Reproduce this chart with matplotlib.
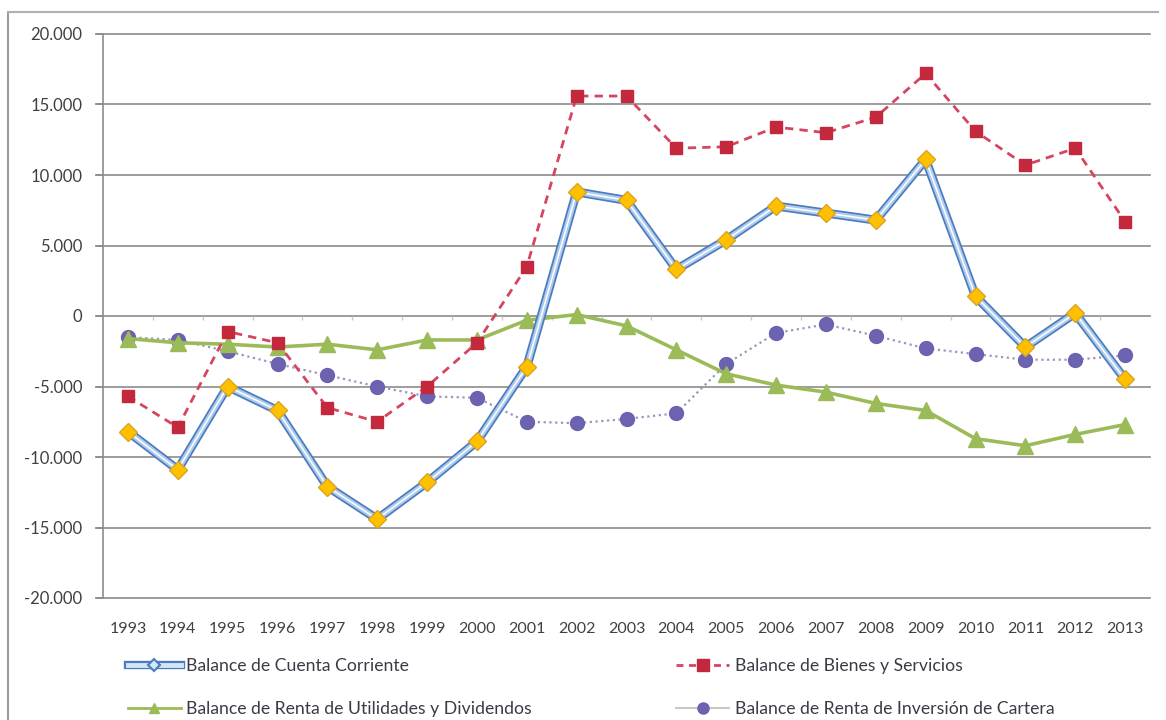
import numpy as np
import matplotlib
matplotlib.use("Agg")
from matplotlib import pyplot as plt
from matplotlib.lines import Line2D
from matplotlib.ticker import FuncFormatter
from matplotlib.legend_handler import HandlerTuple

plt.rcParams['font.family'] = ['Lato', 'DejaVu Sans']

years = [str(y) for y in range(1993, 2014)]

# millones de US$
cuenta_corriente = [-8200, -10900, -5000, -6700, -12100, -14400, -11800, -8900, -3600, 8800,
                    8200, 3300, 5400, 7800, 7300, 6800, 11100, 1400, -2200, 200, -4500]
bienes_servicios = [-5700, -7900, -1100, -1900, -6500, -7500, -5000, -1900, 3500, 15600,
                    15600, 11900, 12000, 13400, 13000, 14100, 17200, 13100, 10700, 11900, 6700]
utilidades_dividendos = [-1600, -1900, -2000, -2200, -2000, -2400, -1700, -1700, -300, 100,
                         -700, -2400, -4100, -4900, -5400, -6200, -6700, -8700, -9200, -8400, -7700]
inversion_cartera = [-1500, -1700, -2500, -3400, -4200, -5000, -5700, -5800, -7500, -7600,
                     -7300, -6900, -3400, -1200, -600, -1400, -2300, -2700, -3100, -3100, -2800]

labels = ['Balance de Cuenta Corriente', 'Balance de Bienes y Servicios',
          'Balance de Renta de Utilidades y Dividendos', 'Balance de Renta de Inversión de Cartera']

yticks = list(range(-20000, 20001, 5000))

txt = '#404040'
grid = '#8c8c8c'

fig = plt.figure(figsize=(11.66, 7.2), dpi=100)
ax = fig.add_axes([103 / 1166, 1 - 598 / 720, 1047 / 1166, 564 / 720])
x = np.arange(len(years))

ax.set_xlim(-0.5, len(years) - 0.5)
ax.set_ylim(-20000, 20000)
ax.set_yticks(yticks)
ax.yaxis.set_major_formatter(FuncFormatter(lambda v, p: f'{int(v):,}'.replace(',', '.')))
ax.set_xticks(x)
ax.set_xticklabels(years)
ax.tick_params(axis='x', length=0, pad=17, labelsize=11.5, labelcolor=txt)
ax.tick_params(axis='y', length=6, width=1.2, color=grid, pad=9, labelsize=12, labelcolor=txt)
for s in ['top', 'right', 'bottom']:
    ax.spines[s].set_visible(False)
ax.spines['left'].set_color(grid)
ax.spines['left'].set_linewidth(1.2)

for v in yticks:
    ax.axhline(v, xmin=-6 / 1047, xmax=1, color=grid, lw=1.2, zorder=1, clip_on=False)

# marcas pequeñas bajo el eje cero, entre categorías
ax.vlines(x[:-1] + 0.5, -300, 0, color='#c8c8c8', lw=1, zorder=1)

ax.plot(x, inversion_cartera, color='#9a96bb', lw=1.6, ls=(0, (1, 1.6)),
        marker='o', ms=10, mfc='#6b62b0', mec='#6b62b0', zorder=3)
ax.plot(x, utilidades_dividendos, color='#9bbb59', lw=2.6,
        marker='^', ms=11, mfc='#9bbb59', mec='#9bbb59', zorder=4)
ax.plot(x, bienes_servicios, color='#d64560', lw=2, ls=(0, (3, 2.2)),
        marker='s', ms=8, mfc='#c3283d', mec='#c3283d', zorder=5)
ax.plot(x, cuenta_corriente, color='#4a7cbe', lw=6.5, zorder=6)
ax.plot(x, cuenta_corriente, color='#aecbee', lw=4, zorder=6)
ax.plot(x, cuenta_corriente, color='white', lw=1.1, zorder=6)
ax.plot(x, cuenta_corriente, ls='none', marker='D', ms=9.5, mfc='#ffc000',
        mec='#d9a520', mew=1, zorder=7)

# leyenda
h_cc = (Line2D([], [], color='#4a7cbe', lw=6),
        Line2D([], [], color='#d6e5f6', lw=3.5),
        Line2D([], [], ls='none', marker='D', ms=6.5, mfc='#d6e5f6', mec='#4a7cbe', mew=1.5))
h_bs = (Line2D([], [], color='#d64560', lw=2, ls=(0, (2.5, 2))),
        Line2D([], [], ls='none', marker='s', ms=8, mfc='#c3283d', mec='#c3283d'))
h_ud = (Line2D([], [], color='#9bbb59', lw=2),
        Line2D([], [], ls='none', marker='^', ms=7, mfc='#9bbb59', mec='#9bbb59'))
h_ic = (Line2D([], [], color='#c8c8c8', lw=1.5),
        Line2D([], [], ls='none', marker='o', ms=8, mfc='#6b62b0', mec='#6b62b0'))

fig.legend([h_cc, h_ud, h_bs, h_ic], [labels[0], labels[2], labels[1], labels[3]],
           ncol=2, loc='upper left', bbox_to_anchor=(112 / 1166, 1 - 642 / 720),
           frameon=False, fontsize=12.7, handlelength=3.0, handletextpad=0.3,
           columnspacing=8.2, labelspacing=1.55, labelcolor='#3d3a48',
           handler_map={tuple: HandlerTuple(ndivide=1)})

# marco
fig.add_artist(Line2D([8 / 1166, 8 / 1166], [0, 1 - 12 / 720], color='#9a9a9a', lw=1.5))
fig.add_artist(Line2D([8 / 1166, 1158 / 1166], [1 - 12 / 720, 1 - 12 / 720], color='#b0b0b0', lw=1.5))

fig.savefig('out.png', dpi=100)
